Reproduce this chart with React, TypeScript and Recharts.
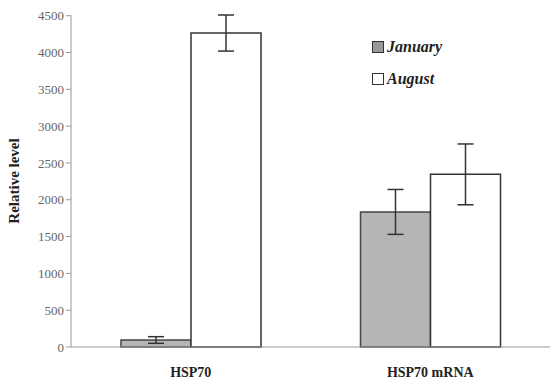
import { BarChart, Bar, XAxis, YAxis, ErrorBar } from 'recharts';

const categories = ['HSP70', 'HSP70 mRNA'];
const january = [95, 1835];
const januaryErr = [45, 305];
const august = [4265, 2345];
const augustErr = [245, 413];
const yTicks = [0, 500, 1000, 1500, 2000, 2500, 3000, 3500, 4000, 4500];

const data = categories.map((name, i) => ({
  name,
  january: january[i],
  januaryErr: januaryErr[i],
  august: august[i],
  augustErr: augustErr[i],
}));

const font = '"Liberation Serif", "Times New Roman", serif';

const CategoryTick = (props: any) => {
  const { x, y, payload } = props;
  return (
    <text x={x} y={y + 22} textAnchor="middle" fontFamily={font} fontWeight="bold" fontSize={14} fill="#222">
      {payload.value}
    </text>
  );
};

const App = () => {
  return (
    <div style={{ position: 'absolute', left: 0, top: 0, width: 550, height: 383, background: '#fff' }}>
      <BarChart
        width={550}
        height={383}
        data={data}
        margin={{ top: 15, right: 0, bottom: 0, left: 0 }}
        barCategoryGap={50}
        barGap={0}
      >
        <XAxis
          dataKey="name"
          height={36}
          tick={<CategoryTick />}
          tickLine={false}
          axisLine={{ stroke: '#999' }}
        />
        <YAxis
          width={71}
          domain={[0, 4500]}
          ticks={yTicks}
          interval={0}
          tickSize={5}
          tick={{ fontFamily: font, fontSize: 13, fill: '#666' }}
          tickLine={{ stroke: '#999' }}
          axisLine={{ stroke: '#999' }}
          label={{
            value: 'Relative level',
            angle: -90,
            position: 'insideLeft',
            offset: 14,
            style: { fontFamily: font, fontWeight: 'bold', fontSize: 15, fill: '#222', textAnchor: 'middle' },
          }}
        />
        <Bar dataKey="january" fill="#b5b5b5" stroke="#444" strokeWidth={1.5} isAnimationActive={false}>
          <ErrorBar dataKey="januaryErr" width={8} stroke="#333" strokeWidth={1.5} />
        </Bar>
        <Bar dataKey="august" fill="#ffffff" stroke="#333" strokeWidth={1.5} isAnimationActive={false}>
          <ErrorBar dataKey="augustErr" width={8} stroke="#333" strokeWidth={1.5} />
        </Bar>
      </BarChart>
      <div style={{ position: 'absolute', left: 372, top: 31, fontFamily: font, fontStyle: 'italic', fontWeight: 'bold', fontSize: 16, color: '#222', lineHeight: '32px' }}>
        <div style={{ display: 'flex', alignItems: 'center' }}>
          <span style={{ display: 'inline-block', width: 10, height: 10, background: '#999', border: '1px solid #333', marginRight: 3 }} />
          January
        </div>
        <div style={{ display: 'flex', alignItems: 'center' }}>
          <span style={{ display: 'inline-block', width: 10, height: 10, background: '#fff', border: '1px solid #333', marginRight: 3 }} />
          August
        </div>
      </div>
    </div>
  );
};

export default App;
